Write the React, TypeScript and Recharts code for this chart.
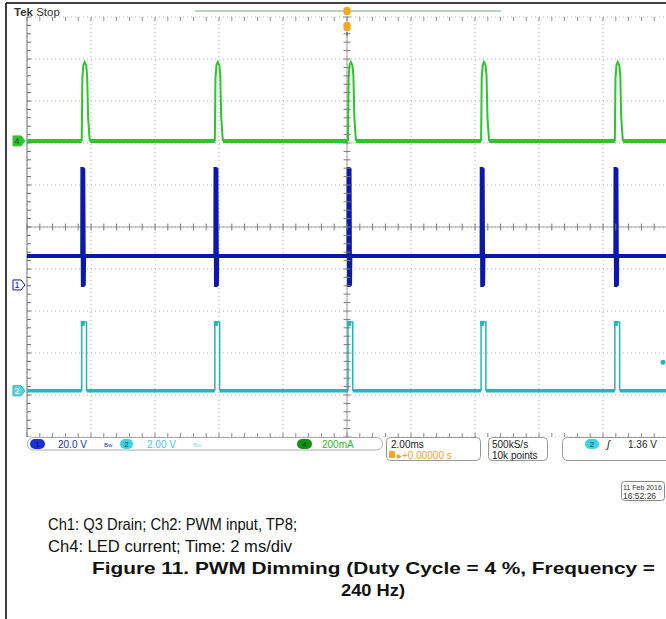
import React from 'react';
import { LineChart, Line, XAxis, YAxis, ReferenceLine, ReferenceDot } from 'recharts';

// screen: 10 x 10 divisions, 2 ms/div, trigger at t = 0
const timeGrid = [-10, -8, -6, -4, -2, 0, 2, 4, 6, 8, 10];
const divGrid = [-5, -4, -3, -2, -1, 0, 1, 2, 3, 4, 5];

// rising edges of the PWM input (ms)
const pulseStarts = [-8.29, -4.13, 0.03, 4.19, 8.37];

// Ch2: PWM input, TP8 (divisions)
const pwmLow = -3.9;
const pwmHigh = -2.26;
const pwmOffsets = [0, 0, 0.15, 0.15];
const pwmLevels = [pwmLow, pwmHigh, pwmHigh, pwmLow];
const triggerLevelV = 1.36;
const ch2VoltsPerDiv = 2.0;

// Ch4: LED current pulse (offset from edge in ms / level in div)
const ledBase = 2.05;
const ledOffsets = [0, 0.02, 0.05, 0.09, 0.14, 0.17, 0.2, 0.25];
const ledLevels = [2.05, 3.55, 3.85, 3.93, 3.85, 3.6, 2.6, 2.05];

// Ch1: Q3 drain, ringing burst at each edge
const drainBase = -0.69;
const drainGround = -1.38;
const drainOffsets = [0, 0.005, 0.02, 0.035, 0.05, 0.065, 0.08, 0.09];
const drainLevels = [-0.69, 1.43, -1.43, 1.42, -1.42, 1.4, -1.4, -0.69];

const GREEN = '#2ec42e';
const BLUE = '#0c18a8';
const CYAN = '#22b6be';
const ORANGE = '#f5a623';
const scopeFont = "'Liberation Sans', Arial, sans-serif";

type Pt = { t: number; v: number | null };

// flat part of a trace, broken where the pulses are
function baseline(base: number, width: number): Pt[] {
  const pts: Pt[] = [{ t: -10, v: base }];
  pulseStarts.forEach((s) => {
    pts.push({ t: s, v: base });
    pts.push({ t: s, v: null });
    pts.push({ t: s + width, v: base });
  });
  pts.push({ t: 10, v: base });
  return pts;
}

function pulses(offsets: number[], levels: number[]): Pt[] {
  const pts: Pt[] = [];
  pulseStarts.forEach((s) => {
    offsets.forEach((o, i) => pts.push({ t: s + o, v: levels[i] }));
    pts.push({ t: s + offsets[offsets.length - 1], v: null });
  });
  return pts;
}

const ledBaseData = baseline(ledBase, ledOffsets[ledOffsets.length - 1]);
const ledPulseData = pulses(ledOffsets, ledLevels);
const drainBaseData = baseline(drainBase, drainOffsets[drainOffsets.length - 1]);
const drainPulseData = pulses(drainOffsets, drainLevels);
const pwmBaseData = baseline(pwmLow, pwmOffsets[pwmOffsets.length - 1]);
const pwmPulseData = pulses(pwmOffsets, pwmLevels);

// minor tick indexes, 5 per division, across the 10 x 10 screen
const xMinor: number[] = [];
for (let i = -25; i <= 25; i++) xMinor.push(i);
const yMinor: number[] = [];
for (let i = -25; i <= 25; i++) yMinor.push(i);

// pixel size of one minor step: 1/5 of a 64 px (x) or 42 px (y) division
const X_STEP = 64 / 5;
const Y_STEP = 42 / 5;

// one path holding a row of small ticks, anchored on a reference dot
function tickRow(positions: number[], horizontal: boolean, step: number, a: number, b: number, color: string) {
  return (p: any) => {
    const d = positions
      .map((i) =>
        horizontal
          ? `M${p.cx + i * step},${p.cy + a}V${p.cy + b}`
          : `M${p.cx + a},${p.cy + i * step}H${p.cx + b}`,
      )
      .join('');
    return <path d={d} stroke={color} strokeWidth={1} fill="none" />;
  };
}

const groundMarker = (label: string, fill: string, stroke: string, text: string) => (p: any) => {
  const { cx, cy } = p;
  return (
    <g>
      <path
        d={`M${cx - 14},${cy - 5} L${cx - 6},${cy - 5} L${cx - 2},${cy} L${cx - 6},${cy + 5} L${cx - 14},${cy + 5} Z`}
        fill={fill}
        stroke={stroke}
        strokeWidth={1}
      />
      <text x={cx - 10} y={cy + 3.5} fontSize={9} fontFamily={scopeFont} textAnchor="middle" fill={text}>
        {label}
      </text>
    </g>
  );
};

const triggerMarker = (p: any) => {
  const { cx, cy } = p;
  return (
    <g>
      <rect x={cx - 3.5} y={cy - 10} width={7} height={8} rx={2.5} fill={ORANGE} />
      <rect x={cx - 3.5} y={cy + 5} width={7} height={9} rx={2.5} fill={ORANGE} />
      <line x1={cx} y1={cy + 15} x2={cx} y2={cy + 19} stroke="#555" strokeWidth={1} />
    </g>
  );
};

const levelMarker = (p: any) => <circle cx={p.cx - 4} cy={p.cy} r={2.5} fill={CYAN} />;

// thicker top-left corner of each PWM pulse
const pwmCorner = (p: any) => <rect x={p.cx - 1} y={p.cy - 1} width={4} height={5} fill={CYAN} />;

function Oval({ x, y, w, fill, label, color }: any) {
  return (
    <g>
      <rect x={x} y={y} width={w} height={10} rx={5} fill={fill} />
      <text x={x + w / 2} y={y + 8} fontSize={8} textAnchor="middle" fill={color} fontFamily={scopeFont}>
        {label}
      </text>
    </g>
  );
}

export default function App() {
  return (
    <div style={{ position: 'absolute', left: 0, top: 0, width: 666, height: 619, overflow: 'hidden', background: '#fff' }}>
      <svg width={666} height={619} style={{ position: 'absolute', left: 0, top: 0 }} fontFamily={scopeFont}>
        <line x1={6} y1={3} x2={666} y2={3} stroke="#000" strokeWidth={1.5} />
        <line x1={6} y1={3} x2={6} y2={619} stroke="#000" strokeWidth={1.5} />

        <text x={14} y={16} fontSize={11.5} fill="#333">
          <tspan fontWeight="bold">Tek</tspan> Stop
        </text>
        <line x1={195} y1={11} x2={501} y2={11} stroke="#7aa57a" strokeWidth={1} />

        {/* status bar */}
        <rect x={27.5} y={437.5} width={355} height={12.5} rx={6} fill="#fff" stroke="#aaa" />
        <Oval x={30} y={439} w={15} fill="#1d2ed8" label="1" color="#0a0a50" />
        <text x={58} y={448} fontSize={10} fill="#2233aa">20.0 V</text>
        <text x={104} y={447} fontSize={6} fill="#2233aa">Bw</text>
        <Oval x={120} y={439} w={13} fill="#3cd3e0" label="2" color="#0a3a50" />
        <text x={147} y={448} fontSize={10} fill="#4cc4d4">2.00 V</text>
        <text x={193} y={447} fontSize={6} fill="#8adbe3">Bw</text>
        <Oval x={297} y={439} w={15} fill="#129012" label="4" color="#043a04" />
        <text x={322} y={448} fontSize={10} fill="#33b033">200mA</text>

        <rect x={386.5} y={437.5} width={94} height={23} rx={4} fill="#fff" stroke="#999" />
        <text x={391} y={448} fontSize={10} fill="#222">2.00ms</text>
        <rect x={389} y={451} width={6} height={7} rx={1} fill={ORANGE} />
        <text x={397} y={459} fontSize={10} fill="#f0a030">▸+0.00000 s</text>

        <rect x={488.5} y={437.5} width={59} height={23} rx={4} fill="#fff" stroke="#999" />
        <text x={492} y={448} fontSize={10} fill="#222">500kS/s</text>
        <text x={492} y={459} fontSize={10} fill="#222">10k points</text>

        <rect x={562.5} y={437.5} width={120} height={23} rx={5} fill="#fff" stroke="#999" />
        <Oval x={585} y={439} w={14} fill="#3cd3e0" label="2" color="#0a3a50" />
        <text x={607} y={448} fontSize={10} fontStyle="italic" fill="#111">ʃ</text>
        <text x={628} y={448} fontSize={10} fill="#222">1.36 V</text>

        <rect x={621.5} y={481.5} width={43} height={19} rx={3} fill="#fff" stroke="#888" />
        <text x={623} y={490} fontSize={7} fill="#333">11 Feb 2016</text>
        <text x={623} y={499} fontSize={8.5} fill="#333">16:52:26</text>

        {/* caption */}
        <text x={48} y={530} fontSize={17} fill="#111" textLength={249} lengthAdjust="spacingAndGlyphs">
          Ch1: Q3 Drain; Ch2: PWM input, TP8;
        </text>
        <text x={48} y={552} fontSize={17} fill="#111" textLength={244} lengthAdjust="spacingAndGlyphs">
          Ch4: LED current; Time: 2 ms/div
        </text>
        <text x={92} y={574} fontSize={17} fontWeight="bold" fill="#111" textLength={563} lengthAdjust="spacingAndGlyphs">
          Figure 11. PWM Dimming (Duty Cycle = 4 %, Frequency =
        </text>
        <text x={373} y={596} fontSize={17} fontWeight="bold" fill="#111" textAnchor="middle" textLength={64} lengthAdjust="spacingAndGlyphs">
          240 Hz)
        </text>
      </svg>

      <div style={{ position: 'absolute', left: 0, top: 0 }}>
        <LineChart width={668} height={437} margin={{ top: 17, right: 1, bottom: 0, left: 27 }}>
          <XAxis type="number" dataKey="t" domain={[-10, 10]} ticks={timeGrid} hide allowDataOverflow />
          <YAxis type="number" domain={[-5, 5]} ticks={divGrid} hide allowDataOverflow width={0} />

          {timeGrid.map((t) => (
            <ReferenceLine key={`gx${t}`} x={t} stroke="#b0b0b0" strokeDasharray="1 3" ifOverflow="visible" />
          ))}
          {divGrid.map((d) => (
            <ReferenceLine key={`gy${d}`} y={d} stroke="#b0b0b0" strokeDasharray="1 3" ifOverflow="visible" />
          ))}
          <ReferenceLine x={0} stroke="#a0a0a0" />
          <ReferenceLine y={0} stroke="#a0a0a0" />
          <ReferenceLine x={-10} stroke="#777" />

          {/* graticule ticks: centre cross, top, bottom and left edges */}
          <ReferenceDot x={0} y={0} r={1} ifOverflow="visible" shape={tickRow(xMinor, true, X_STEP, -3.5, 3.5, '#7a7a7a')} />
          <ReferenceDot x={0} y={0} r={1} ifOverflow="visible" shape={tickRow(yMinor, false, Y_STEP, -3.5, 3.5, '#7a7a7a')} />
          <ReferenceDot x={0} y={5} r={1} ifOverflow="visible" shape={tickRow(xMinor, true, X_STEP, 0, 4, '#8a8a8a')} />
          <ReferenceDot x={0} y={-5} r={1} ifOverflow="visible" shape={tickRow(xMinor, true, X_STEP, -4, 0, '#8a8a8a')} />
          <ReferenceDot x={-10} y={0} r={1} ifOverflow="visible" shape={tickRow(yMinor, false, Y_STEP, 0, 4, '#6a6a6a')} />

          <Line data={ledBaseData} dataKey="v" stroke={GREEN} strokeWidth={4} dot={false} isAnimationActive={false} />
          <Line data={ledPulseData} dataKey="v" stroke={GREEN} strokeWidth={2} dot={false} isAnimationActive={false} />
          <Line data={drainBaseData} dataKey="v" stroke={BLUE} strokeWidth={4} dot={false} isAnimationActive={false} />
          <Line data={drainPulseData} dataKey="v" stroke={BLUE} strokeWidth={3} strokeLinecap="round" dot={false} isAnimationActive={false} />
          <Line data={pwmBaseData} dataKey="v" stroke={CYAN} strokeWidth={3.5} dot={false} isAnimationActive={false} />
          <Line data={pwmPulseData} dataKey="v" stroke={CYAN} strokeWidth={1.5} dot={false} isAnimationActive={false} />

          {pulseStarts.map((s) => (
            <ReferenceDot key={`pc${s}`} x={s} y={pwmHigh} r={1} ifOverflow="visible" shape={pwmCorner} />
          ))}
          <ReferenceDot x={-10} y={ledBase} ifOverflow="visible" shape={groundMarker('4', GREEN, GREEN, '#0a4a0a')} />
          <ReferenceDot x={-10} y={drainGround} ifOverflow="visible" shape={groundMarker('1', '#fff', BLUE, BLUE)} />
          <ReferenceDot x={-10} y={pwmLow} ifOverflow="visible" shape={groundMarker('2', '#5fd0dc', CYAN, '#eaffff')} />
          <ReferenceDot x={0} y={5} ifOverflow="visible" shape={triggerMarker} />
          <ReferenceDot x={10} y={pwmLow + triggerLevelV / ch2VoltsPerDiv} ifOverflow="visible" shape={levelMarker} />
        </LineChart>
      </div>
    </div>
  );
}
